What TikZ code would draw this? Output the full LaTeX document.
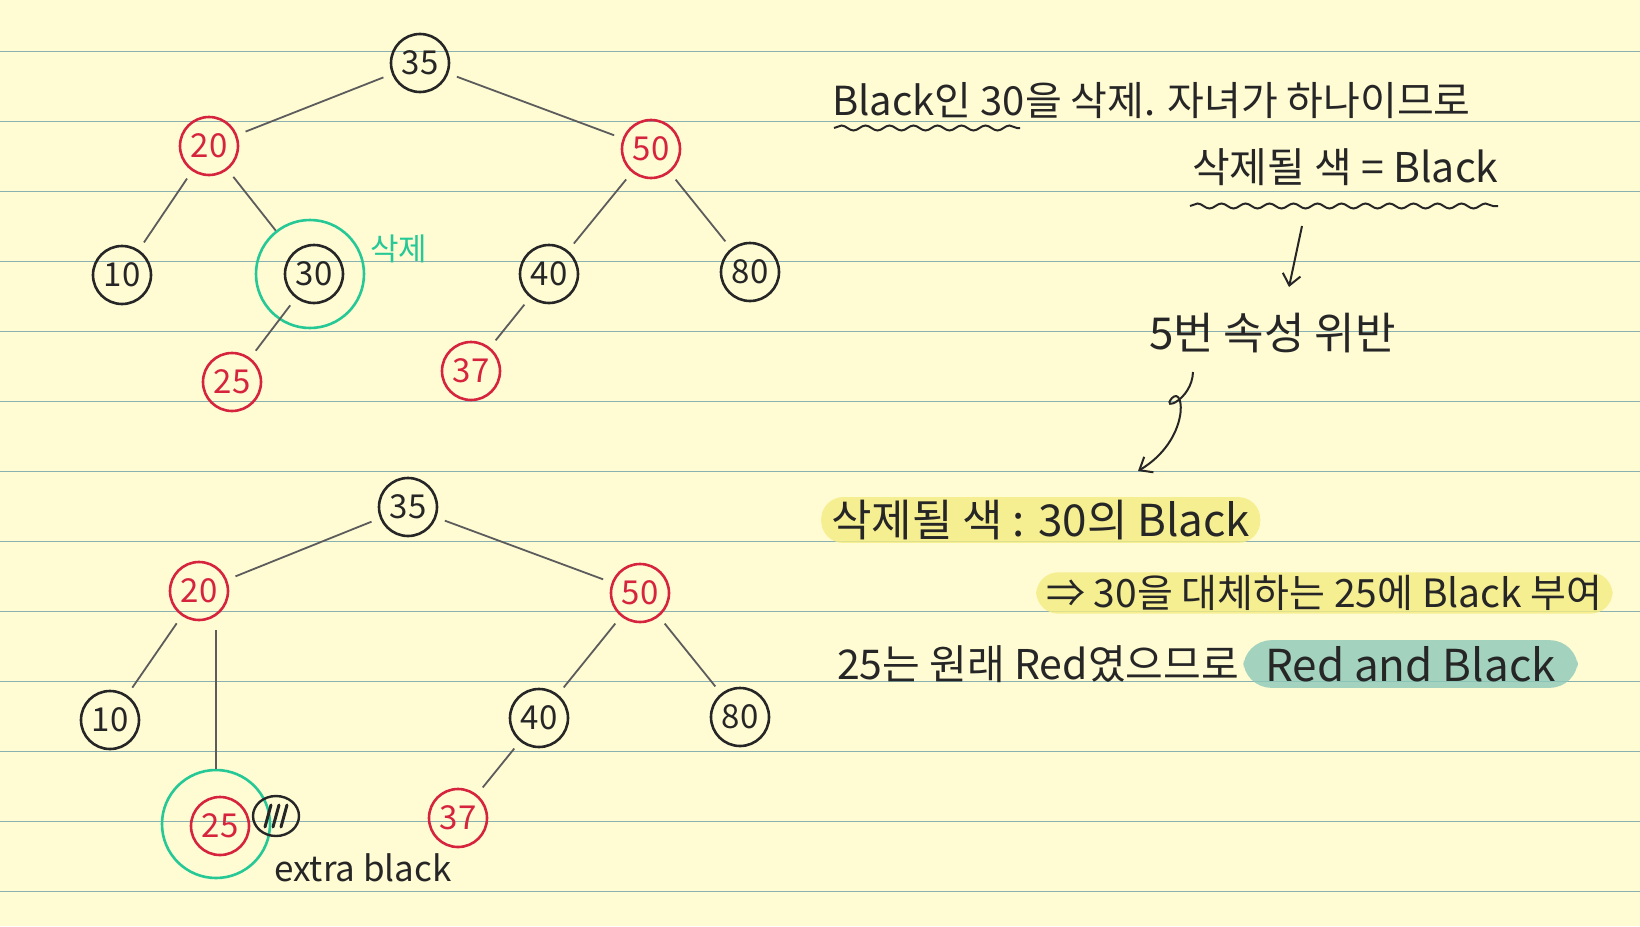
\documentclass[tikz,border=0pt]{standalone}
\usepackage{fontspec}
\setmainfont{Noto Sans CJK KR}
\usetikzlibrary{arrows.meta,decorations.pathmorphing,positioning}
\definecolor{paper}{RGB}{255,252,212}
\definecolor{ruleline}{RGB}{138,176,178}
\definecolor{inkred}{RGB}{214,36,62}
\definecolor{inkgreen}{RGB}{38,200,150}
\definecolor{ink}{RGB}{38,38,38}
\definecolor{hlyellow}{RGB}{244,236,130}
\definecolor{hlteal}{RGB}{140,200,185}

\tikzset{
  rbnode/.style={circle, draw=#1, text=#1, line width=2.6pt, minimum size=58pt, inner sep=0pt, font=\fontsize{33}{33}\selectfont},
  blacknode/.style={rbnode=ink},
  rednode/.style={rbnode=inkred},
  delring/.style={circle, draw=inkgreen, line width=2.6pt, minimum size=108pt, inner sep=0pt},
  xring/.style={ellipse, draw=ink, line width=2.4pt, minimum width=46pt, minimum height=40pt, inner sep=0pt},
  edge/.style={draw=ink!75, line width=1.8pt, shorten >=9pt, shorten <=9pt},
  note/.style={anchor=west, inner sep=0pt, text=ink, font=\fontsize{40}{40}\selectfont},
  marker/.style={note, fill=#1, fill opacity=0.8, text opacity=1, rounded corners=22pt, inner xsep=10pt, inner ysep=3pt},
  wave/.style={draw=ink, line width=2pt, decorate, decoration={snake, amplitude=2.5pt, segment length=24pt}},
  pen/.style={draw=ink, line width=2pt, -{Straight Barb[length=11pt, width=18pt]}},
}
\usetikzlibrary{shapes.geometric}

\begin{document}
\begin{tikzpicture}[x=1pt,y=-1pt]
\useasboundingbox (0,0) rectangle (1640,926);
\fill[paper] (0,0) rectangle (1640,926);
\foreach \k in {0,...,12}
  \draw[ruleline, line width=1.5pt] (0,51.7+70*\k) -- (1640,51.7+70*\k);

% before: delete 30
\node[blacknode] (a35) at (420,63) {35};
\node[rednode] (a20) at (209,146) {20};
\node[rednode] (a50) at (651,149) {50};
\node[blacknode] (a10) at (122,275) {10};
\node[blacknode] (a30) at (314,274) {30};
\node[blacknode] (a40) at (549,274) {40};
\node[blacknode] (a80) at (750,272) {80};
\node[rednode] (a25) at (232,382) {25};
\node[rednode] (a37) at (471,371) {37};
\node[delring] (a30del) at (310,274) {};
\node[anchor=west, inner sep=0pt, text=inkgreen, font=\fontsize{31}{31}\selectfont] (dellabel) at (370,249) {삭제};

\draw[edge] (a35) -- (a20);
\draw[edge] (a35) -- (a50);
\draw[edge] (a20) -- (a10);
\draw[edge, shorten >=0pt] (a20) -- (a30del);
\draw[edge] (a30) -- (a25);
\draw[edge] (a50) -- (a40);
\draw[edge] (a50) -- (a80);
\draw[edge] (a40) -- (a37);

% after: 25 takes the place of 30
\node[blacknode] (b35) at (408,507) {35};
\node[rednode] (b20) at (199,591) {20};
\node[rednode] (b50) at (640,593) {50};
\node[blacknode] (b10) at (110,720) {10};
\node[rednode] (b25) at (220,826) {25};
\node[blacknode] (b40) at (539,718) {40};
\node[blacknode] (b80) at (740,717) {80};
\node[rednode] (b37) at (458,818) {37};
\node[delring] (b25del) at (216,824) {};
\node[xring] (xb) at (276,816) {};
\foreach \d in {-8,0,8}
  \draw[ink, line width=3pt, line cap=round] ([xshift=\d pt-3pt, yshift=-11pt]xb.center) -- ++(6,-22);
\node[note, font=\fontsize{35}{35}\selectfont] (xlabel) at (274,868) {extra black};

\draw[edge] (b35) -- (b20);
\draw[edge] (b35) -- (b50);
\draw[edge] (b20) -- (b10);
\draw[edge, shorten >=0pt] (b20.south -| b25del) -- (b25del);
\draw[edge] (b50) -- (b40);
\draw[edge] (b50) -- (b80);
\draw[edge] (b40) -- (b37);

% notes
\node[note] (lineA) at (832,101) {Black인 30을 삭제. 자녀가 하나이므로};
\node[note, font=\fontsize{41}{41}\selectfont] (lineB) at (1192,167) {삭제될 색 = Black};
\coordinate (wA1) at (834,128);
\coordinate (wA2) at (1020,128);
\coordinate (wB1) at (1190,206);
\coordinate (wB2) at (1498,206);
\draw[wave] (wA1) -- (wA2);
\draw[wave] (wB1) -- (wB2);

\coordinate (dA) at (1302,226);
\coordinate (dB) at (1289,287);
\draw[pen] (dA) -- (dB);

\node[note, font=\fontsize{44}{44}\selectfont] (viol) at (1149,333) {5번 속성 위반};

\coordinate (cA) at (1193,372);
\coordinate (cB) at (1172,398);
\coordinate (cC) at (1138,471);
\draw[pen] (cA) .. controls (1192,400) and (1160,412) .. (cB)
  .. controls (1185,385) and (1190,440) .. (cC);

\node[marker=hlyellow, font=\fontsize{44}{44}\selectfont] (lineC) at (821,520) {삭제될 색 : 30의 Black};
\node[marker=hlyellow, font=\fontsize{39}{39}\selectfont] (lineD) at (1036,593) {⇒ 30을 대체하는 25에 Black 부여};
\node[note, font=\fontsize{41}{41}\selectfont] (lineE) at (837,664) {25는 원래 Red였으므로};
\node[marker=hlteal, font=\fontsize{44}{44}\selectfont, inner xsep=22pt, inner ysep=6pt, rounded corners=28pt, right=4pt of lineE] (redblack) {Red and Black};
\end{tikzpicture}
\end{document}
